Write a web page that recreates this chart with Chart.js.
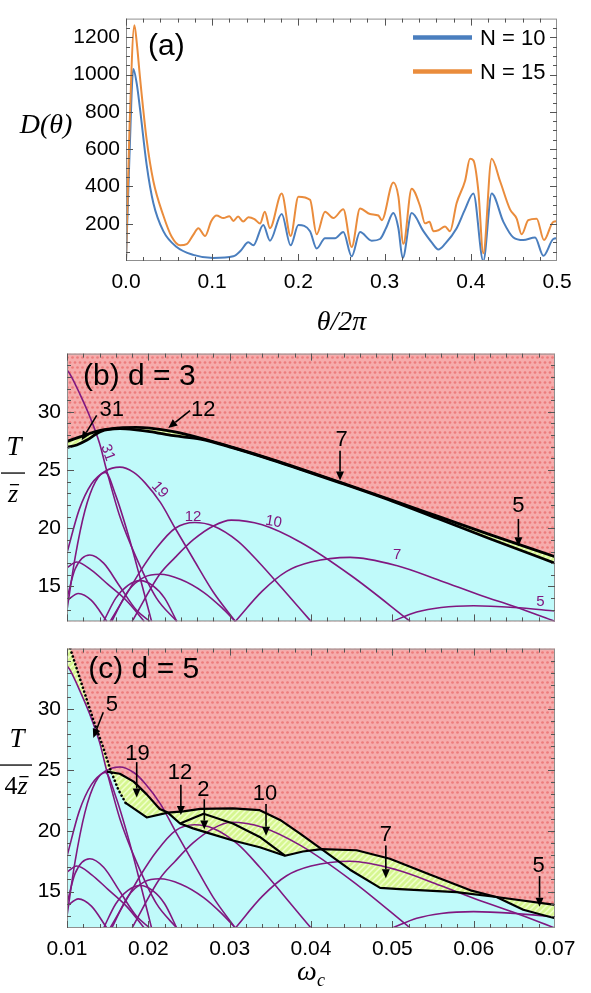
<!DOCTYPE html>
<html>
<head>
<meta charset="utf-8">
<script src="https://cdn.jsdelivr.net/npm/chart.js@4.4.1/dist/chart.umd.min.js"></script>
<style>
  html, body { margin:0; padding:0; background:#ffffff; }
  body { width:591px; height:993px; position:relative; overflow:hidden; }
  canvas { position:absolute; left:0; }
</style>
</head>
<body>
<canvas id="chartA" width="591" height="345" style="top:0;width:591px;height:345px"></canvas>
<canvas id="chartB" width="591" height="305" style="top:335px;width:591px;height:305px"></canvas>
<canvas id="chartC" width="591" height="363" style="top:630px;width:591px;height:363px"></canvas>
<script>
// ================= Panel (a) data =================
const thetaN10 = [0,0.004,0.0085,0.0125,0.0162,0.024,0.0317,0.0433,0.0588,0.078,0.1013,0.1245,0.133,0.1419,0.1477,0.1593,0.167,0.1806,0.191,0.2,0.2135,0.2212,0.2309,0.2425,0.2521,0.2618,0.2715,0.285,0.2947,0.302,0.3101,0.316,0.321,0.3314,0.345,0.3546,0.3624,0.3701,0.3836,0.3933,0.403,0.4145,0.4242,0.4378,0.4494,0.4609,0.4745,0.4842,0.4957,0.5];
const dN10 = [0,560,1030,950,818,514,311,160,75,33,16,25,55,100,84,193,109,252,84,193,160,67,122,122,155,25,155,109,118,180,257,176,16,257,160,100,62,92,176,277,362,0,362,210,126,112,126,28,118,122];
const thetaN15 = [0,0.004,0.0097,0.0125,0.0162,0.024,0.0317,0.0433,0.053,0.0627,0.0704,0.078,0.0839,0.0917,0.099,0.1051,0.113,0.12,0.1245,0.13,0.136,0.142,0.149,0.1555,0.161,0.167,0.1806,0.191,0.2,0.2135,0.2212,0.2309,0.2405,0.2521,0.2618,0.2715,0.2831,0.2928,0.2967,0.3101,0.316,0.3218,0.3314,0.3411,0.3469,0.352,0.3566,0.3624,0.3701,0.3759,0.3836,0.3933,0.3991,0.403,0.4087,0.4145,0.4242,0.4339,0.4455,0.4532,0.459,0.4667,0.4764,0.4849,0.4957,0.5];
const dN15 = [0,700,1265,1170,986,649,429,244,130,84,90,140,176,134,215,244,230,240,215,238,212,235,225,201,264,176,362,134,345,328,143,264,230,277,75,281,252,244,219,421,345,92,387,295,202,210,160,165,185,160,311,429,548,540,379,42,548,429,277,227,143,219,227,112,210,213];
const seriesNamesA = ['N = 10', 'N = 15'];
const xTicksA = [0, 0.1, 0.2, 0.3, 0.4, 0.5];
const yTicksA = [200, 400, 600, 800, 1000, 1200];

// ================= Panels (b),(c) data =================
const xTicksBC = [0.01, 0.02, 0.03, 0.04, 0.05, 0.06, 0.07];
const yTicksBC = [15, 20, 25, 30];

// purple arches (omega_c, T)
const archN31 = [[0.0100,33.6],[0.0104,33.2],[0.0116,31.5],[0.0128,29.6],[0.0140,27.3],[0.0149,24.9],[0.0165,21.0],[0.0185,17.5],[0.0210,14.0],[0.0235,12.0]];
const archB   = [[0.0100,13.0],[0.0110,17.5],[0.0122,21.5],[0.0135,24.0],[0.0147,24.8],[0.0160,22.8],[0.0175,19.5],[0.0190,15.7],[0.0204,12.0]];
const archN19 = [[0.0100,17.9],[0.0115,21.6],[0.0130,23.8],[0.0147,24.9],[0.0165,25.25],[0.0182,24.8],[0.0196,23.9],[0.0215,22.2],[0.0233,20.0],[0.0255,17.4],[0.0280,14.5],[0.0307,12.0]];
const archN12 = [[0.0153,12.0],[0.0172,14.2],[0.0190,16.3],[0.0210,18.3],[0.0233,20.0],[0.0257,20.5],[0.0280,20.2],[0.0310,18.9],[0.0337,17.0],[0.0365,14.8],[0.0400,12.0]];
const archN10 = [[0.0180,12.0],[0.0214,16.05],[0.0233,17.5],[0.0255,19.0],[0.0280,20.2],[0.0302,20.7],[0.0340,20.3],[0.0387,18.8],[0.0450,15.9],[0.0522,12.0]];
const archN7  = [[0.0307,12.0],[0.0340,14.6],[0.0370,16.3],[0.0400,17.1],[0.0448,17.5],[0.0505,16.8],[0.0559,15.5],[0.0610,14.2],[0.0649,13.3],[0.0700,12.0]];
const archN5  = [[0.0500,12.0],[0.0530,12.8],[0.0560,13.2],[0.0600,13.35],[0.0650,13.2],[0.0700,12.9]];
const archH   = [[0.0100,14.0],[0.0110,16.5],[0.0128,17.7],[0.0145,17.0],[0.0165,15.0],[0.0185,13.0],[0.0202,12.0]];
const archI   = [[0.0100,16.6],[0.0112,17.1],[0.0130,16.4],[0.0150,15.2],[0.0173,13.8],[0.0195,12.0]];
const archJ   = [[0.0100,13.8],[0.0114,14.4],[0.0130,13.8],[0.0149,12.0]];
const archK   = [[0.0145,12.0],[0.0160,14.0],[0.0175,15.1],[0.0190,15.5],[0.0205,15.1],[0.0220,14.0],[0.0235,12.0]];
const archL   = [[0.0155,12.0],[0.0175,14.6],[0.0195,15.8],[0.0214,16.05],[0.0240,15.6],[0.0268,14.5],[0.0290,13.2],[0.0307,12.0]];
const archesBC = [archN31, archB, archN19, archN12, archN10, archN7, archN5, archH, archI, archJ, archK, archL];

// panel (b) boundaries
const bUpperBound = [[0.0100,27.45],[0.0116,27.85],[0.0141,28.4],[0.0165,28.62],[0.0185,28.66],[0.0202,28.6],[0.0231,28.3],[0.0264,27.75],[0.0304,26.95],[0.0346,26.05],[0.0387,25.1],[0.0436,23.95],[0.0500,22.4],[0.0559,20.95],[0.0620,19.45],[0.0700,17.55]];
const bLowerBound = [[0.0100,26.95],[0.0112,27.15],[0.0124,27.55],[0.0141,28.3],[0.0165,28.55],[0.0185,28.45],[0.0202,28.3],[0.0231,27.95],[0.0264,27.65],[0.0304,26.9],[0.0346,26.0],[0.0387,25.05],[0.0436,23.9],[0.0500,22.33],[0.0559,20.75],[0.0620,19.1],[0.0700,17.0]];

// panel (c) boundaries
const cDotted  = [[0.0104,35.0],[0.0118,32.1],[0.0132,29.2],[0.01446,26.85],[0.0153,25.1],[0.0163,23.4],[0.0172,22.3]];
const cUpper19 = [[0.0149,24.87],[0.0165,24.7],[0.0182,24.05],[0.0198,23.0],[0.0214,21.8],[0.0224,21.5]];
const cLower19 = [[0.0172,22.3],[0.0198,21.1],[0.0224,21.5]];
const cUpperA  = [[0.0224,21.5],[0.0243,21.6],[0.0264,21.8],[0.0304,21.85],[0.0337,21.7],[0.0362,20.9],[0.0387,19.75],[0.0413,18.5],[0.0448,16.8],[0.0485,15.3],[0.0509,15.2],[0.0579,14.95],[0.0628,14.55],[0.0700,13.9]];
const cLowerB  = [[0.0224,21.5],[0.0239,20.6],[0.0255,20.2],[0.0272,19.85],[0.0304,19.2],[0.0337,18.65],[0.0368,17.95],[0.0390,18.3],[0.0413,18.5],[0.0456,18.4],[0.0497,17.7],[0.0546,16.4],[0.0596,15.1],[0.0628,14.55],[0.0661,13.5],[0.0700,12.8]];
const cInner2  = [[0.0239,20.6],[0.0268,21.4],[0.0304,20.6],[0.0337,19.5],[0.0368,17.95]];
const cEnvLower = [[0.0100,33.6],[0.0104,33.2],[0.0116,31.5],[0.0128,29.6],[0.0140,27.3],[0.0149,24.9],[0.0153,25.0],[0.0163,23.4],[0.0172,22.3],[0.0198,21.1],[0.0224,21.5],[0.0239,20.6],[0.0255,20.2],[0.0272,19.85],[0.0304,19.2],[0.0337,18.65],[0.0368,17.95],[0.0390,18.3],[0.0413,18.5],[0.0448,16.8],[0.0485,15.3],[0.0509,15.2],[0.0579,14.95],[0.0628,14.55],[0.0661,13.5],[0.0700,12.8]];
const cEnvUpper = [[0.0100,36.6],[0.0104,35.0],[0.0118,32.1],[0.0132,29.2],[0.01446,26.85],[0.0153,25.1],[0.0165,24.7],[0.0182,24.05],[0.0198,23.0],[0.0214,21.8],[0.0224,21.5],[0.0243,21.6],[0.0264,21.8],[0.0304,21.85],[0.0337,21.7],[0.0362,20.9],[0.0387,19.75],[0.0413,18.5],[0.0456,18.4],[0.0497,17.7],[0.0546,16.4],[0.0596,15.1],[0.0628,14.55],[0.0700,13.9]];

// annotations: text + arrow (tail -> head) in data coordinates
const annotB = [
  {t:'31', tx:0.01549, ty:30.2, x1:0.01365, y1:29.7, x2:0.0118, y2:27.55},
  {t:'12', tx:0.02676, ty:30.2, x1:0.02512, y1:30.1, x2:0.02245, y2:28.6},
  {t:'7',  tx:0.04377, ty:27.55, x1:0.04357, y1:26.65, x2:0.04357, y2:24.1},
  {t:'5',  tx:0.0655, ty:21.9, x1:0.0655, y1:20.8, x2:0.0655, y2:18.45}
];
const annotC = [
  {t:'5',  tx:0.01553, ty:30.4, x1:0.01446, y1:29.76, x2:0.01323, y2:27.65},
  {t:'19', tx:0.01867, ty:26.3, x1:0.01857, y1:25.66, x2:0.01857, y2:22.75},
  {t:'12', tx:0.0239, ty:24.75, x1:0.0240, y1:23.8, x2:0.0240, y2:21.3},
  {t:'2',  tx:0.02676, ty:23.4, x1:0.02688, y1:22.6, x2:0.02688, y2:20.1},
  {t:'10', tx:0.03435, ty:23.0, x1:0.03447, y1:22.2, x2:0.03447, y2:19.6},
  {t:'7',  tx:0.0492, ty:19.7, x1:0.0492, y1:18.8, x2:0.0492, y2:16.1},
  {t:'5',  tx:0.0680, ty:17.1, x1:0.0681, y1:16.27, x2:0.0681, y2:13.75}
];
const curveLabelsB = [
  {t:'31', x:0.0150, y:26.5, rot:70},
  {t:'19', x:0.0214, y:23.3, rot:48},
  {t:'12', x:0.0255, y:21.0, rot:0},
  {t:'10', x:0.0354, y:20.55, rot:10},
  {t:'7',  x:0.0506, y:17.7, rot:0},
  {t:'5',  x:0.0682, y:13.65, rot:0}
];
const panelLabels = {a:{t:'(a)', x:0.0255, y:1147}, b:{t:'(b) d = 3', x:0.01197, y:33.0}, c:{t:'(c) d = 5', x:0.01262, y:33.3}};

// ================= styling =================
const SANS = '"Liberation Sans", Arial, Helvetica, sans-serif';
const SERIF = '"Liberation Serif", "Times New Roman", serif';
const BLUE = 'rgb(74,126,190)';
const ORANGE = 'rgb(234,140,60)';
const PURPLE = 'rgb(128,24,128)';
const CYAN = 'rgb(192,250,250)';

function makePinkPattern() {
  const c = document.createElement('canvas'); c.width = 5; c.height = 10;
  const g = c.getContext('2d');
  g.fillStyle = 'rgb(246,172,172)'; g.fillRect(0,0,5,10);
  g.fillStyle = 'rgb(236,124,124)';
  [[2.5,2.5],[0,7.5],[5,7.5]].forEach(p => { g.beginPath(); g.arc(p[0],p[1],1.35,0,Math.PI*2); g.fill(); });
  return g.createPattern(c, 'repeat');
}
function makeHatch() {
  const c = document.createElement('canvas'); c.width = 6; c.height = 6;
  const g = c.getContext('2d');
  g.fillStyle = 'rgb(214,246,145)'; g.fillRect(0,0,6,6);
  g.strokeStyle = 'rgb(240,255,205)'; g.lineWidth = 1.5;
  g.beginPath(); g.moveTo(-1,7); g.lineTo(7,-1); g.moveTo(-1,1); g.lineTo(1,-1); g.moveTo(5,7); g.lineTo(7,5); g.stroke();
  return g.createPattern(c, 'repeat');
}
const PINK = makePinkPattern();
const HATCH = makeHatch();

const toXY = arr => arr.map(p => ({x:p[0], y:p[1]}));
const zipXY = (xs, ys) => xs.map((x,i) => ({x, y:ys[i]}));

function drawFrame(chart, xMaj, xMin, yMaj, yMin) {
  const {ctx, chartArea:a, scales:{x, y}} = chart;
  ctx.save();
  ctx.strokeStyle = '#8f8f8f'; ctx.lineWidth = 1;
  ctx.strokeRect(a.left + 0.5, a.top + 0.5, a.right - a.left - 1, a.bottom - a.top - 1);
  ctx.strokeStyle = '#555';
  const seg = (x1,y1,x2,y2) => { ctx.beginPath(); ctx.moveTo(x1,y1); ctx.lineTo(x2,y2); ctx.stroke(); };
  const xt = (vals, L) => vals.forEach(v => { const p = Math.round(x.getPixelForValue(v)) + 0.5; if (p < a.left || p > a.right) return; seg(p, a.bottom, p, a.bottom - L); seg(p, a.top, p, a.top + L); });
  const yt = (vals, L) => vals.forEach(v => { const p = Math.round(y.getPixelForValue(v)) + 0.5; if (p < a.top || p > a.bottom) return; seg(a.left, p, a.left + L, p); seg(a.right, p, a.right - L, p); });
  xt(xMaj, 7); xt(xMin, 4); yt(yMaj, 7); yt(yMin, 4);
  ctx.restore();
}
function drawArrow(ctx, x1, y1, x2, y2) {
  const ang = Math.atan2(y2 - y1, x2 - x1), L = 9, W = 4;
  const bx = x2 - L*Math.cos(ang), by = y2 - L*Math.sin(ang);
  ctx.beginPath(); ctx.moveTo(x1, y1); ctx.lineTo(bx, by); ctx.stroke();
  ctx.beginPath(); ctx.moveTo(x2, y2);
  ctx.lineTo(bx + W*Math.sin(ang), by - W*Math.cos(ang));
  ctx.lineTo(bx - W*Math.sin(ang), by + W*Math.cos(ang));
  ctx.closePath(); ctx.fill();
}
function drawAnnots(chart, list) {
  const {ctx, scales:{x, y}} = chart;
  ctx.save();
  ctx.fillStyle = '#000'; ctx.strokeStyle = '#000'; ctx.lineWidth = 1.6;
  ctx.font = '22px ' + SANS; ctx.textAlign = 'center'; ctx.textBaseline = 'middle';
  list.forEach(o => {
    ctx.fillText(o.t, x.getPixelForValue(o.tx), y.getPixelForValue(o.ty));
    drawArrow(ctx, x.getPixelForValue(o.x1), y.getPixelForValue(o.y1), x.getPixelForValue(o.x2), y.getPixelForValue(o.y2));
  });
  ctx.restore();
}
function drawZbarFrac(ctx, cx, yNum, yBar, yDen, barW, prefix) {
  ctx.save();
  ctx.fillStyle = '#000'; ctx.textBaseline = 'middle';
  ctx.font = 'italic 27px ' + SERIF; ctx.textAlign = 'center';
  ctx.fillText('T', cx + 1, yNum);
  ctx.fillRect(cx - barW/2, yBar - 0.6, barW, 1.3);
  ctx.font = '26px ' + SERIF;
  const pw = prefix ? ctx.measureText(prefix).width : 0;
  ctx.font = 'italic 26px ' + SERIF;
  const zw = ctx.measureText('z').width;
  const left = cx - (pw + zw)/2;
  ctx.textAlign = 'left';
  if (prefix) { ctx.font = '26px ' + SERIF; ctx.fillText(prefix, left, yDen); }
  ctx.font = 'italic 26px ' + SERIF;
  ctx.fillText('z', left + pw, yDen);
  ctx.fillRect(left + pw + 2, yDen - 11, zw - 1, 1.3);
  ctx.restore();
}
const minorRange = (a, b, step, skip) => { const out = []; for (let v = a; v <= b + 1e-9; v += step) { const r = Math.round(v*1e6)/1e6; if (!skip.some(s => Math.abs(s - r) < 1e-9)) out.push(r); } return out; };

function yAxis(min, max, ticks, width, fmt) {
  return {
    type:'linear', min, max,
    afterBuildTicks: s => { s.ticks = ticks.map(v => ({value:v})); },
    afterFit: s => { s.width = width; },
    grid:{display:false, drawTicks:false}, border:{display:false},
    ticks:{font:{family:SANS, size:21}, color:'#000', padding:6, autoSkip:false, callback: fmt}
  };
}
function xAxis(min, max, ticks, height, fmt, show) {
  return {
    type:'linear', min, max, display: show,
    afterBuildTicks: s => { s.ticks = ticks.map(v => ({value:v})); },
    afterFit: s => { s.height = height; },
    grid:{display:false, drawTicks:false}, border:{display:false},
    ticks:{font:{family:SANS, size:21}, color:'#000', padding:9, autoSkip:false, maxRotation:0, callback: fmt}
  };
}
const baseOpts = () => ({
  responsive:false, animation:false, events:[], devicePixelRatio:1,
  plugins:{legend:{display:false}, tooltip:{enabled:false}, filler:{drawTime:'beforeDatasetsDraw', propagate:false}},
  elements:{point:{radius:0}}
});

// ================= Chart (a) =================
const optsA = baseOpts();
optsA.layout = {padding:{top:5, right:34, left:0, bottom:0}};
optsA.scales = {
  x: xAxis(0, 0.5, xTicksA, 84, v => v.toFixed(1), true),
  y: yAxis(0, 1300, yTicksA, 126, v => String(v))
};
new Chart(document.getElementById('chartA'), {
  type:'line',
  data:{datasets:[
    {label:seriesNamesA[1], data:zipXY(thetaN15, dN15), borderColor:ORANGE, borderWidth:2, cubicInterpolationMode:'monotone', fill:false, order:0},
    {label:seriesNamesA[0], data:zipXY(thetaN10, dN10), borderColor:BLUE, borderWidth:2, cubicInterpolationMode:'monotone', fill:false, order:1}
  ]},
  options: optsA,
  plugins:[{
    id:'decoA',
    afterDraw(chart) {
      const {ctx, chartArea:a, scales:{x, y}} = chart;
      drawFrame(chart, xTicksA, minorRange(0, 0.5, 0.02, xTicksA), yTicksA, minorRange(50, 1250, 50, yTicksA));
      ctx.save();
      ctx.fillStyle = '#000'; ctx.textBaseline = 'middle'; ctx.textAlign = 'left';
      ctx.font = '30px ' + SANS;
      ctx.fillText(panelLabels.a.t, x.getPixelForValue(panelLabels.a.x), y.getPixelForValue(panelLabels.a.y));
      // legend
      const rows = [[BLUE, seriesNamesA[0]], [ORANGE, seriesNamesA[1]]];
      ctx.font = '22px ' + SANS;
      rows.forEach((r, i) => {
        const yy = a.top + 19 + i*34;
        ctx.strokeStyle = r[0]; ctx.lineWidth = 4.5;
        ctx.beginPath(); ctx.moveTo(a.right - 144, yy); ctx.lineTo(a.right - 85, yy); ctx.stroke();
        ctx.fillText(r[1], a.right - 77, yy + 1);
      });
      // axis titles
      ctx.font = 'italic 28px ' + SERIF; ctx.textAlign = 'center';
      ctx.fillText('D(θ)', 46, 126);
      ctx.fillText('θ/2π', (a.left + a.right)/2, 323);
      ctx.restore();
    }
  }]
});

// ================= Chart (b) =================
const purpleSets = () => archesBC.map(arr => ({data:toXY(arr), borderColor:PURPLE, borderWidth:1.6, cubicInterpolationMode:'monotone', fill:false, order:5}));
const optsB = baseOpts();
optsB.layout = {padding:{top:13, right:36, left:0, bottom:2}};
optsB.scales = {
  x: xAxis(0.01, 0.07, xTicksBC, 0, v => v.toFixed(2), false),
  y: yAxis(12, 35, yTicksBC, 67, v => String(v))
};
const xMinorBC = minorRange(0.01, 0.07, 0.002, xTicksBC);
const yMinorBC = minorRange(13, 34, 1, yTicksBC);
new Chart(document.getElementById('chartB'), {
  type:'line',
  data:{datasets:[
    {data:toXY(bLowerBound), borderColor:'#000', borderWidth:2.8, cubicInterpolationMode:'monotone', fill:'start', backgroundColor:CYAN, order:2},
    {data:toXY(bUpperBound), borderColor:'#000', borderWidth:2.8, cubicInterpolationMode:'monotone', fill:{target:0, above:HATCH, below:HATCH}, order:1},
    ...purpleSets()
  ]},
  options: optsB,
  plugins:[{
    id:'decoB',
    beforeDraw(chart) {
      const {ctx, chartArea:a} = chart;
      ctx.save(); ctx.fillStyle = PINK; ctx.fillRect(a.left, a.top, a.right - a.left, a.bottom - a.top); ctx.restore();
    },
    afterDraw(chart) {
      const {ctx, scales:{x, y}} = chart;
      drawFrame(chart, xTicksBC, xMinorBC, yTicksBC, yMinorBC);
      ctx.save();
      ctx.fillStyle = PURPLE; ctx.font = '15px ' + SANS; ctx.textAlign = 'center'; ctx.textBaseline = 'middle';
      curveLabelsB.forEach(l => {
        ctx.save(); ctx.translate(x.getPixelForValue(l.x), y.getPixelForValue(l.y)); ctx.rotate(l.rot*Math.PI/180);
        ctx.fillText(l.t, 0, 0); ctx.restore();
      });
      ctx.fillStyle = '#000'; ctx.font = '30px ' + SANS; ctx.textAlign = 'left';
      ctx.fillText(panelLabels.b.t, x.getPixelForValue(panelLabels.b.x), y.getPixelForValue(panelLabels.b.y));
      ctx.restore();
      drawAnnots(chart, annotB);
      drawZbarFrac(ctx, 13, 113, 138, 160, 24, '');
    }
  }]
});

// ================= Chart (c) =================
const optsC = baseOpts();
optsC.layout = {padding:{top:8, right:36, left:0, bottom:0}};
optsC.scales = {
  x: xAxis(0.01, 0.07, xTicksBC, 65, v => v.toFixed(2), true),
  y: yAxis(12, 35, yTicksBC, 67, v => String(v))
};
const blackLine = (arr, w) => ({data:toXY(arr), borderColor:'#000', borderWidth:w, tension:0, fill:false, order:1, borderJoinStyle:'round'});
new Chart(document.getElementById('chartC'), {
  type:'line',
  data:{datasets:[
    {data:toXY(cEnvLower), borderColor:'rgba(0,0,0,0)', borderWidth:0, tension:0, fill:'start', backgroundColor:CYAN, order:11},
    {data:toXY(cEnvUpper), borderColor:'rgba(0,0,0,0)', borderWidth:0, tension:0, fill:{target:0, above:HATCH, below:HATCH}, order:10},
    ...purpleSets(),
    {data:toXY(cDotted), borderColor:'#000', borderWidth:2.6, borderDash:[0.1, 4], borderCapStyle:'round', tension:0, fill:false, order:1},
    blackLine(cUpper19, 2.2), blackLine(cLower19, 2.2), blackLine(cUpperA, 2.2), blackLine(cLowerB, 2.2), blackLine(cInner2, 2.2)
  ]},
  options: optsC,
  plugins:[{
    id:'decoC',
    beforeDraw(chart) {
      const {ctx, chartArea:a} = chart;
      ctx.save(); ctx.fillStyle = PINK; ctx.fillRect(a.left, a.top, a.right - a.left, a.bottom - a.top); ctx.restore();
    },
    afterDraw(chart) {
      const {ctx, chartArea:a, scales:{x, y}} = chart;
      drawFrame(chart, xTicksBC, xMinorBC, yTicksBC, yMinorBC);
      ctx.save();
      ctx.fillStyle = '#000'; ctx.font = '30px ' + SANS; ctx.textAlign = 'left'; ctx.textBaseline = 'middle';
      ctx.fillText(panelLabels.c.t, x.getPixelForValue(panelLabels.c.x), y.getPixelForValue(panelLabels.c.y));
      // omega_c title
      const cx = (a.left + a.right)/2;
      ctx.font = 'italic 28px ' + SERIF;
      const ww = ctx.measureText('ω').width;
      ctx.font = 'italic 18px ' + SERIF;
      const cw = ctx.measureText('c').width;
      const lx = cx - (ww + cw)/2;
      ctx.font = 'italic 28px ' + SERIF; ctx.fillText('ω', lx, 343);
      ctx.font = 'italic 18px ' + SERIF; ctx.fillText('c', lx + ww, 351);
      ctx.restore();
      drawAnnots(chart, annotC);
      drawZbarFrac(ctx, 16, 110, 135, 157, 32, '4');
    }
  }]
});
</script>
</body>
</html>
